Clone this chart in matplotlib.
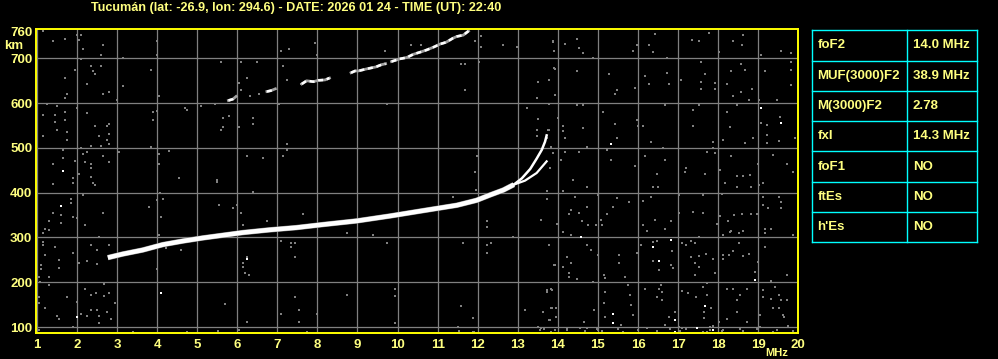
import matplotlib
matplotlib.use("Agg")
import matplotlib.pyplot as plt

FONT = ['Liberation Sans', 'DejaVu Sans']
plt.rcParams['font.family'] = FONT

TITLE = "Tucumán (lat: -26.9, lon: 294.6) - DATE: 2026 01 24 - TIME (UT): 22:40"

x_ticks = list(range(1, 21))
y_ticks = [100, 200, 300, 400, 500, 600, 700, 760]

# main F-trace (ordinary), common part
main_f = [2.77, 3.14, 3.64, 4.14, 4.64, 5.14, 5.64, 6.14, 6.80, 7.47, 8.15, 8.98,
          9.81, 10.64, 11.48, 11.97, 12.31, 12.64, 12.90]
main_h = [255, 263, 272, 284, 292, 299, 305, 311, 317, 322, 329, 337,
          348, 360, 372, 383, 395, 406, 418]
# upper branch near critical frequency
up_f = [12.90, 13.10, 13.31, 13.47, 13.60, 13.68, 13.72]
up_h = [418, 432, 453, 476, 496, 514, 528]
# lower branch
lo_f = [12.90, 13.18, 13.47, 13.72]
lo_h = [418, 427, 444, 470]

# second hop trace, in pieces
hop2_seg = [1, 1, 1, 2, 2, 2, 3, 3, 3, 3, 3, 3, 4, 4, 4, 4, 4, 4, 4,
            5, 5, 5, 5, 5, 5, 5, 5, 5, 5, 5, 5, 5]
hop2_f = [5.78, 5.89, 5.97, 6.74, 6.84, 6.95, 7.61, 7.73, 7.90, 8.02, 8.19, 8.30,
          8.84, 8.94, 9.02, 9.25, 9.46, 9.60, 9.70,
          9.85, 10.06, 10.23, 10.39, 10.60, 10.73, 10.92, 11.06, 11.21, 11.38,
          11.48, 11.64, 11.77]
hop2_h = [606, 609, 615, 626, 628, 632, 643, 650, 648, 651, 652, 656,
          668, 672, 672, 677, 681, 686, 688,
          693, 699, 702, 709, 715, 719, 726, 732, 736, 745,
          749, 752, 761]

# scattered gray noise
noise_f = [1.15, 1.40, 1.70, 2.04, 2.10, 1.99, 2.14, 2.64, 2.60, 2.10, 1.95, 2.35, 2.39, 2.45,
           2.60, 1.70, 2.24, 1.75, 1.71, 2.64, 2.79, 2.99, 3.14, 3.14, 3.85, 3.99, 3.99, 4.04,
           1.25, 1.50, 1.15, 1.45, 1.70, 1.70, 1.45, 2.24, 1.99, 1.50, 1.75, 1.15, 1.75, 2.45,
           2.75, 2.79, 2.79, 2.54, 2.74, 2.79, 2.60, 2.35, 2.10, 2.24, 1.65, 1.65, 2.14, 2.64,
           1.95, 2.21, 2.34, 1.40, 2.35, 2.04, 2.34, 1.89, 2.79, 3.04, 3.85, 3.89, 3.89, 3.99,
           4.04, 4.04, 4.29, 4.54, 4.70, 4.75, 5.10, 5.45, 5.60, 5.64, 5.79, 5.64, 5.60, 6.04,
           6.04, 6.10, 6.10, 6.24, 6.32, 6.49, 6.54, 6.39, 6.39, 6.24, 6.64, 7.03, 7.09, 7.28,
           7.13, 7.23, 7.58, 7.23, 7.23, 7.13, 5.50,
           1.40, 1.89, 2.39, 2.46, 2.14, 1.85, 1.85, 1.60, 1.40, 1.60, 1.31, 1.89, 1.99, 2.64,
           2.21, 1.19, 1.30, 1.15, 1.15, 1.15, 1.44, 2.56, 2.79, 2.35, 2.50, 1.89, 1.21, 1.55,
           1.55, 1.10, 1.10, 2.06, 2.24, 2.49, 1.31, 1.06, 1.08, 1.30, 2.21, 2.35, 2.48, 2.68,
           2.79, 2.68, 1.75, 1.99, 1.05, 1.05, 1.19, 1.50, 1.55, 2.10, 2.24, 2.35, 2.50, 2.56,
           2.74, 2.85, 2.54, 1.89, 1.05, 2.95, 3.79, 4.06, 4.14, 3.99, 4.10, 4.04, 3.99, 4.60,
           4.22, 4.75, 5.54, 5.50, 5.89, 5.99, 6.09, 6.14, 6.24, 6.14, 6.14, 6.19, 6.29, 5.70,
           6.24, 6.04, 6.39, 6.74, 7.09, 7.34, 7.45, 7.34, 7.43, 7.44, 7.55, 7.09, 7.55,
           7.94, 7.98, 9.69, 9.73, 10.33, 10.58, 11.58, 11.68, 11.68, 11.93, 12.07, 12.07,
           12.62, 12.97, 12.02, 13.51, 13.79, 13.47, 13.22, 13.51, 13.47, 13.78, 13.47, 13.72,
           13.82, 13.87, 13.80, 11.97, 11.93, 13.89, 13.91, 13.91, 13.79,
           7.63, 8.73, 9.38, 9.73, 7.33, 7.44, 7.33, 7.44, 11.38, 11.96, 12.22, 12.22, 11.63,
           12.22, 12.32, 12.22, 12.87, 13.57, 13.72, 13.72, 13.78, 13.91, 7.44, 8.73, 9.94,
           9.94, 7.54, 7.98, 7.54, 9.94, 11.58, 11.87, 11.52, 11.53, 11.87, 13.18, 13.51,
           13.55, 13.72, 13.83, 13.78, 13.83, 13.83,
           13.87, 14.17, 13.93, 13.78, 13.92, 14.47, 14.62, 14.53, 14.87, 14.47, 15.28, 15.47,
           15.43, 15.12, 15.43, 15.47, 15.97, 15.87, 16.42, 16.27, 16.37, 16.72, 16.17, 16.28,
           16.72, 16.78, 17.07, 17.57, 17.56, 17.57, 17.92, 17.92, 17.67, 17.34, 17.51, 17.77,
           18.01, 18.38, 18.60, 18.61, 18.57, 18.67, 18.31, 18.21, 18.36, 18.57, 18.85, 18.77,
           19.07, 19.17, 19.56, 19.81, 19.81, 19.82, 19.83, 19.46, 19.03, 19.07, 19.21, 19.21,
           19.21, 19.54, 19.53, 19.92, 19.71, 19.88, 19.38, 19.00, 18.86, 18.67, 18.63, 18.79,
           18.46, 18.31, 18.46, 18.21, 18.30, 18.11, 17.86, 17.86, 17.92, 17.71, 17.36, 17.36,
           17.51, 17.21, 17.66, 18.05, 17.17, 16.67, 16.32, 16.63, 16.67, 16.47, 16.17, 15.93,
           16.01, 16.12, 15.97, 15.93, 15.48, 15.32, 15.22, 14.72, 14.62, 14.47, 14.62, 14.14,
           14.12, 14.18, 14.01, 13.76, 13.87, 14.07, 14.18, 14.54, 14.39,
           13.72, 13.72, 14.12, 14.43, 14.72, 15.01, 15.47, 15.37, 14.72, 14.32, 14.54, 14.29,
           15.22, 14.59, 14.76, 15.07, 15.09, 14.95, 14.12, 14.32, 13.97, 13.57, 14.72, 14.82,
           14.22, 14.32, 14.12, 13.93, 14.29, 14.29, 14.47, 14.87, 15.01, 15.14, 15.18, 15.53,
           15.53, 15.68, 15.97, 16.08, 15.78, 16.12, 16.22, 16.12, 16.42, 16.38, 16.38, 16.52,
           16.47, 16.82, 16.88, 16.82, 16.67, 16.84, 16.51, 16.37, 16.33, 17.03, 17.03, 17.11,
           17.21, 17.32, 17.42, 17.36, 17.61, 17.61, 17.53, 17.32, 17.53, 17.42, 17.51, 17.42,
           17.92, 17.86, 17.70, 18.05, 17.96, 18.09, 18.17, 18.46, 18.81, 19.03, 19.11, 19.11,
           19.11, 19.25, 19.53, 19.56, 19.56, 18.96, 18.81, 18.59, 18.40, 18.25, 18.11, 18.30,
           18.53, 18.61, 18.31, 19.17, 19.31, 19.17, 19.88, 18.52, 18.36, 18.11, 18.11, 18.28,
           18.61, 18.77, 19.00, 18.92, 19.17, 19.71, 19.32, 19.42, 19.11, 19.53, 19.56, 19.71,
           19.31, 19.38, 19.53, 19.61, 19.65, 19.75, 19.04, 19.04, 18.54, 18.46, 18.36, 18.21,
           18.71, 19.11, 18.73, 18.46, 18.21, 18.11, 17.81, 17.65, 17.65, 17.71, 17.45, 17.26,
           17.61, 17.71, 17.11, 17.03, 17.11, 17.88, 17.71, 18.03, 17.80, 16.92, 16.77, 16.67,
           16.61, 16.59, 16.57, 16.53, 16.47, 16.17, 15.82, 15.80, 15.76, 15.87, 15.58, 15.51,
           15.18, 15.18, 15.14, 14.89, 14.64, 14.72, 15.01, 15.09, 14.55, 14.22, 13.95, 13.95,
           13.85, 13.74, 13.85, 13.80, 13.62, 13.57,
           13.93, 14.22, 14.68, 14.97, 15.09, 15.51, 15.63, 16.01, 16.22, 16.47, 16.80, 17.05,
           17.21, 17.63, 17.80, 18.09, 18.54, 18.63, 18.96, 19.38, 19.46, 19.88, 11.9, 7.75,
           5.52, 3.40, 13.65]
noise_h = [761, 739, 744, 741, 753, 753, 721, 730, 708, 698, 674, 682, 672, 665,
           683, 656, 643, 620, 611, 620, 625, 607, 702, 639, 674, 739, 708, 616,
           598, 593, 574, 574, 580, 563, 558, 578, 589, 540, 535, 527, 518, 549,
           550, 554, 531, 526, 518, 508, 505, 505, 500, 491, 496, 477, 486, 482,
           471, 468, 464, 464, 455, 441, 436, 433, 468, 491, 501, 580, 563, 583,
           486, 464, 494, 433, 589, 585, 594, 598, 691, 566, 572, 546, 540, 546,
           645, 630, 691, 656, 616, 691, 620, 566, 553, 482, 477, 598, 717, 721,
           683, 652, 642, 508, 496, 482, 429,
           419, 422, 422, 417, 395, 387, 376, 350, 354, 333, 337, 346, 343, 355,
           328, 320, 316, 309, 290, 283, 279, 300, 283, 283, 273, 266, 261, 250,
           231, 238, 229, 244, 248, 241, 212, 212, 201, 194, 184, 171, 175, 196,
           175, 169, 168, 157, 168, 153, 142, 125, 117, 130, 125, 138, 138, 125,
           134, 119, 108, 101, 93, 153, 369, 400, 385, 383, 346, 305, 229, 273,
           276, 90, 372, 424, 365, 372, 354, 328, 257, 244, 235, 221, 216, 151,
           112, 93, 402, 337, 292, 288, 288, 279, 257, 168, 138, 130, 112,
           734, 708, 717, 598, 730, 730, 687, 687, 630, 739, 749, 725,
           730, 725, 691, 647, 652, 611, 589, 565, 540, 540, 527, 523,
           503, 488, 455, 482, 446, 738, 717, 678, 598,
           352, 311, 305, 288, 288, 288, 279, 257, 391, 407, 337, 324, 287,
           283, 287, 266, 302, 340, 404, 386, 283, 238, 168, 171, 186,
           169, 138, 130, 112, 110, 147, 121, 101, 92, 90, 138, 101,
           93, 179, 184, 116, 143, 90,
           736, 732, 677, 652, 619, 744, 712, 723, 700, 671, 665, 630,
           620, 581, 553, 522, 730, 717, 754, 730, 715, 702, 660, 642,
           667, 642, 652, 693, 648, 631, 645, 631, 665, 741, 738, 756,
           715, 739, 730, 752, 687, 674, 671, 642, 615, 626, 631, 607,
           708, 671, 717, 712, 693, 673, 641, 607, 607, 555, 552, 529,
           511, 570, 516, 522, 464, 447, 485, 464, 522, 511, 438, 440,
           438, 482, 595, 581, 546, 518, 513, 500, 488, 492, 585, 549,
           596, 455, 442, 451, 447, 596, 514, 500, 473, 442, 481, 459,
           550, 550, 563, 633, 522, 473, 496, 503, 544, 595, 595, 537,
           548, 522, 567, 540, 488, 473, 492, 491, 429,
           404, 387, 404, 391, 413, 395, 389, 369, 367, 361, 355, 352,
           352, 337, 329, 339, 328, 329, 313, 305, 331, 339, 283, 272,
           257, 244, 235, 238, 220, 212, 207, 201, 261, 216, 209, 261,
           242, 212, 266, 283, 380, 382, 315, 328, 340, 290, 248, 227,
           292, 238, 231, 337, 319, 270, 413, 412, 391, 395, 354, 288,
           284, 292, 288, 357, 355, 395, 302, 257, 258, 242, 233, 216,
           221, 252, 263, 348, 331, 398, 422, 413, 413, 417, 422, 391,
           372, 365, 391, 380, 365, 352, 352, 352, 350, 337, 305, 313,
           311, 315, 315, 320, 319, 309, 305, 287, 270, 261, 251, 261,
           258, 263, 246, 224, 279, 216, 203, 190, 166, 171, 160, 160,
           162, 142, 143, 127, 123, 102, 127, 101, 171, 160, 186, 186,
           185, 183, 112, 134, 119, 93, 142, 134, 121, 171, 168, 175,
           190, 199, 181, 101, 97, 103, 90, 112, 101, 134, 123, 105,
           160, 179, 194, 186, 168, 186, 149, 171, 194, 127, 105, 97,
           123, 179, 153, 138, 112, 97, 93, 90, 97, 93, 142, 123,
           143, 183, 183, 116, 134, 97,
           93, 96, 91, 95, 92, 96, 90, 94, 97, 91, 95, 92,
           96, 90, 94, 91, 95, 92, 96, 90, 94, 91, 90, 88,
           92, 89, 95]

# bright (white) noise dots
white_f = [1.65, 1.60, 1.99, 4.10, 6.24, 15.32, 19.06, 19.56, 14.57, 16.37, 16.52,
           16.82, 18.92, 17.67, 17.46, 17.86, 16.92, 16.92, 15.37, 15.37]
white_h = [449, 370, 122, 177, 253, 508, 589, 555, 300, 279, 248,
           294, 206, 147, 98, 93, 116, 90, 130, 108]

# parameter table
param_names = ["foF2", "MUF(3000)F2", "M(3000)F2", "fxI", "foF1", "ftEs", "h'Es"]
param_values = ["14.0 MHz", "38.9 MHz", "2.78", "14.3 MHz", "NO", "NO", "NO"]

YEL = "#ffff00"
TXT = "#ffff80"
GRID = "#808080"
CYAN = "#00ffff"

W, H = 998, 359
fig = plt.figure(figsize=(W / 100, H / 100), dpi=100, facecolor="black")

ax = fig.add_axes([35.7 / W, (H - 333.3) / H, (798.3 - 35.7) / W, (333.3 - 29.3) / H])
ax.set_facecolor("black")
ax.set_xlim(0.97, 20)
ax.set_ylim(86, 765)

for xv in x_ticks[:-1]:
    ax.axvline(xv, color=GRID, lw=0.9, zorder=1)
for yv in y_ticks[:-1]:
    ax.axhline(yv, color=GRID, lw=0.9, zorder=1)

ax.scatter(noise_f, noise_h, s=4.0, marker="s", color=GRID, linewidths=0, zorder=2)
ax.scatter(white_f, white_h, s=4.0, marker="s", color="white", linewidths=0, zorder=2)

ax.plot(main_f, main_h, color=GRID, lw=3.9, solid_capstyle="butt", zorder=3)
ax.plot(main_f, main_h, color="white", lw=3.3, solid_capstyle="butt", zorder=4)
ax.plot(up_f, up_h, color="white", lw=1.8, zorder=4)
ax.plot(lo_f, lo_h, color="white", lw=1.6, zorder=4)

for seg in sorted(set(hop2_seg)):
    fs = [f for f, s in zip(hop2_f, hop2_seg) if s == seg]
    hs = [h for h, s in zip(hop2_h, hop2_seg) if s == seg]
    ax.plot(fs, hs, color="#a0a0a0", lw=2.0, zorder=3)
    ax.plot(fs, hs, color="white", lw=1.8, dashes=(2.0, 1.5), zorder=4)

for sp in ax.spines.values():
    sp.set_color(YEL)
    sp.set_linewidth(1.4)
    sp.set_zorder(6)

ax.set_xticks(x_ticks)
ax.set_xticklabels([str(v) for v in x_ticks])
ax.set_yticks(y_ticks)
ax.set_yticklabels([str(v) for v in y_ticks])
ax.tick_params(axis="both", length=0, colors=TXT, labelsize=9.5)
ax.tick_params(axis="x", pad=4)
ax.tick_params(axis="y", pad=2.5)
for lab in ax.get_xticklabels() + ax.get_yticklabels():
    lab.set_fontweight("bold")
    lab.set_family(FONT)

fig.text(13.5 / W, 1 - 45.7 / H, "km", color=TXT, fontsize=9.5, fontweight="bold",
         ha="center", va="center", family=FONT)
fig.text(777 / W, 1 - 352.5 / H, "MHz", color=TXT, fontsize=8, fontweight="bold",
         ha="center", va="center", family=FONT)
fig.text(90.7 / W, 1 - 7.5 / H, TITLE, color=TXT, fontsize=9.1, fontweight="bold",
         ha="left", va="center", family=FONT)

# table
tx0, tx1, ty0, ty1 = 812.3, 977.3, 30.3, 242.3
tax = fig.add_axes([tx0 / W, (H - ty1) / H, (tx1 - tx0) / W, (ty1 - ty0) / H])
tax.set_facecolor("black")
tax.set_xlim(0, tx1 - tx0)
tax.set_ylim(len(param_names), 0)
tax.axis("off")
tw = tx1 - tx0
div = 907.3 - tx0
n = len(param_names)
for i in range(n + 1):
    tax.plot([0, tw], [i, i], color=CYAN, lw=1.0, clip_on=False)
tax.plot([0, 0], [0, n], color=CYAN, lw=1.0, clip_on=False)
tax.plot([tw, tw], [0, n], color=CYAN, lw=1.0, clip_on=False)
tax.plot([div, div], [0, n], color=CYAN, lw=1.0, clip_on=False)
for i, (nm, vl) in enumerate(zip(param_names, param_values)):
    tax.text(5, i + 0.5, nm, color=TXT, fontsize=9.5, fontweight="bold",
             ha="left", va="center", family=FONT)
    tax.text(div + 5.5, i + 0.5, vl, color=TXT, fontsize=9.5, fontweight="bold",
             ha="left", va="center", family=FONT)

fig.savefig("out.png", dpi=100, facecolor="black")
